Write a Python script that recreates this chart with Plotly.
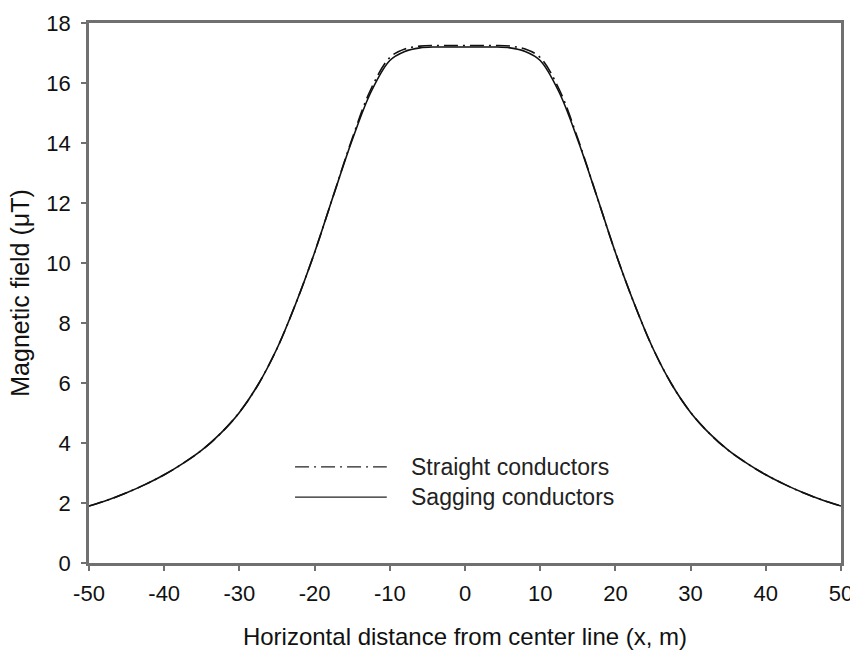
import plotly.graph_objects as go

# Horizontal distance from the line's centre (m), left half; right half mirrors it
x_left = [-50, -47.5, -45, -42.5, -40, -37.5, -35, -32.5, -30, -27.5, -25, -22.5,
          -20, -17.5, -15, -12.5, -10, -8, -6, -4, -2, 0]

# Magnetic field (uT) for each conductor model, left half
sagging_left = [1.9, 2.1, 2.34, 2.62, 2.94, 3.32, 3.76, 4.32, 5.02, 5.95, 7.15, 8.65,
                10.35, 12.25, 14.1, 15.7, 16.75, 17.05, 17.17, 17.2, 17.2, 17.2]
straight_left = [1.9, 2.1, 2.34, 2.62, 2.94, 3.32, 3.76, 4.32, 5.02, 5.95, 7.15, 8.65,
                 10.35, 12.25, 14.15, 15.8, 16.85, 17.13, 17.23, 17.25, 17.25, 17.25]

x_vals = x_left + [-v for v in reversed(x_left[:-1])]
sagging = sagging_left + list(reversed(sagging_left[:-1]))
straight = straight_left + list(reversed(straight_left[:-1]))

x_ticks = [-50, -40, -30, -20, -10, 0, 10, 20, 30, 40, 50]
x_tick_text = ["-50", "-40", "-30", "-20", "-10", "0", "10", "20", "30", "40", "50"]
y_ticks = [0, 2, 4, 6, 8, 10, 12, 14, 16, 18]

series_names = ["Straight conductors", "Sagging conductors"]

FONT = "Liberation Sans, Arial, sans-serif"
DASHDOT = "14px,5px,2px,5px"

fig = go.Figure()
fig.add_trace(go.Scatter(x=x_vals, y=sagging, mode="lines", name=series_names[1],
                         line=dict(color="#111111", width=1.6, shape="spline", smoothing=1.0),
                         showlegend=False))
fig.add_trace(go.Scatter(x=x_vals, y=straight, mode="lines", name=series_names[0],
                         line=dict(color="#111111", width=1.6, dash=DASHDOT,
                                   shape="spline", smoothing=1.0),
                         showlegend=False))

# Hand-built legend: long line samples with labels to their right
legend_rows = [(series_names[0], DASHDOT, 0.178), (series_names[1], "solid", 0.122)]
for label, dash, yp in legend_rows:
    fig.add_shape(type="line", xref="paper", yref="paper",
                  x0=0.274, x1=0.396, y0=yp, y1=yp,
                  line=dict(color="#222222", width=1.4, dash=dash))
    fig.add_annotation(xref="paper", yref="paper", x=0.425, y=yp, text=label,
                       showarrow=False, xanchor="left", yanchor="middle",
                       font=dict(family=FONT, size=23, color="#222222"))

axis_common = dict(showline=True, linecolor="#707070", linewidth=2.5, mirror=True,
                   ticks="outside", ticklen=5, tickwidth=1.5, tickcolor="#707070",
                   showgrid=False, zeroline=False, automargin=False,
                   ticklabeloverflow="allow",
                   tickfont=dict(family=FONT, size=22, color="#111111"))

fig.update_xaxes(range=[-50, 50], tickvals=x_ticks, ticktext=x_tick_text,
                 ticklabelstandoff=4,
                 title=dict(text="Horizontal distance from center line (x, m)",
                            font=dict(family=FONT, size=24, color="#111111"), standoff=24),
                 **axis_common)
fig.update_yaxes(range=[0, 18], tickvals=y_ticks, ticklabelstandoff=6,
                 title=dict(text="Magnetic field (\u03bcT)",
                            font=dict(family=FONT, size=25, color="#111111"), standoff=10),
                 **axis_common)

fig.update_layout(width=850, height=651,
                  margin=dict(l=89, r=9, t=23, b=88),
                  paper_bgcolor="white", plot_bgcolor="white",
                  showlegend=False)

fig.write_html("out.html")
